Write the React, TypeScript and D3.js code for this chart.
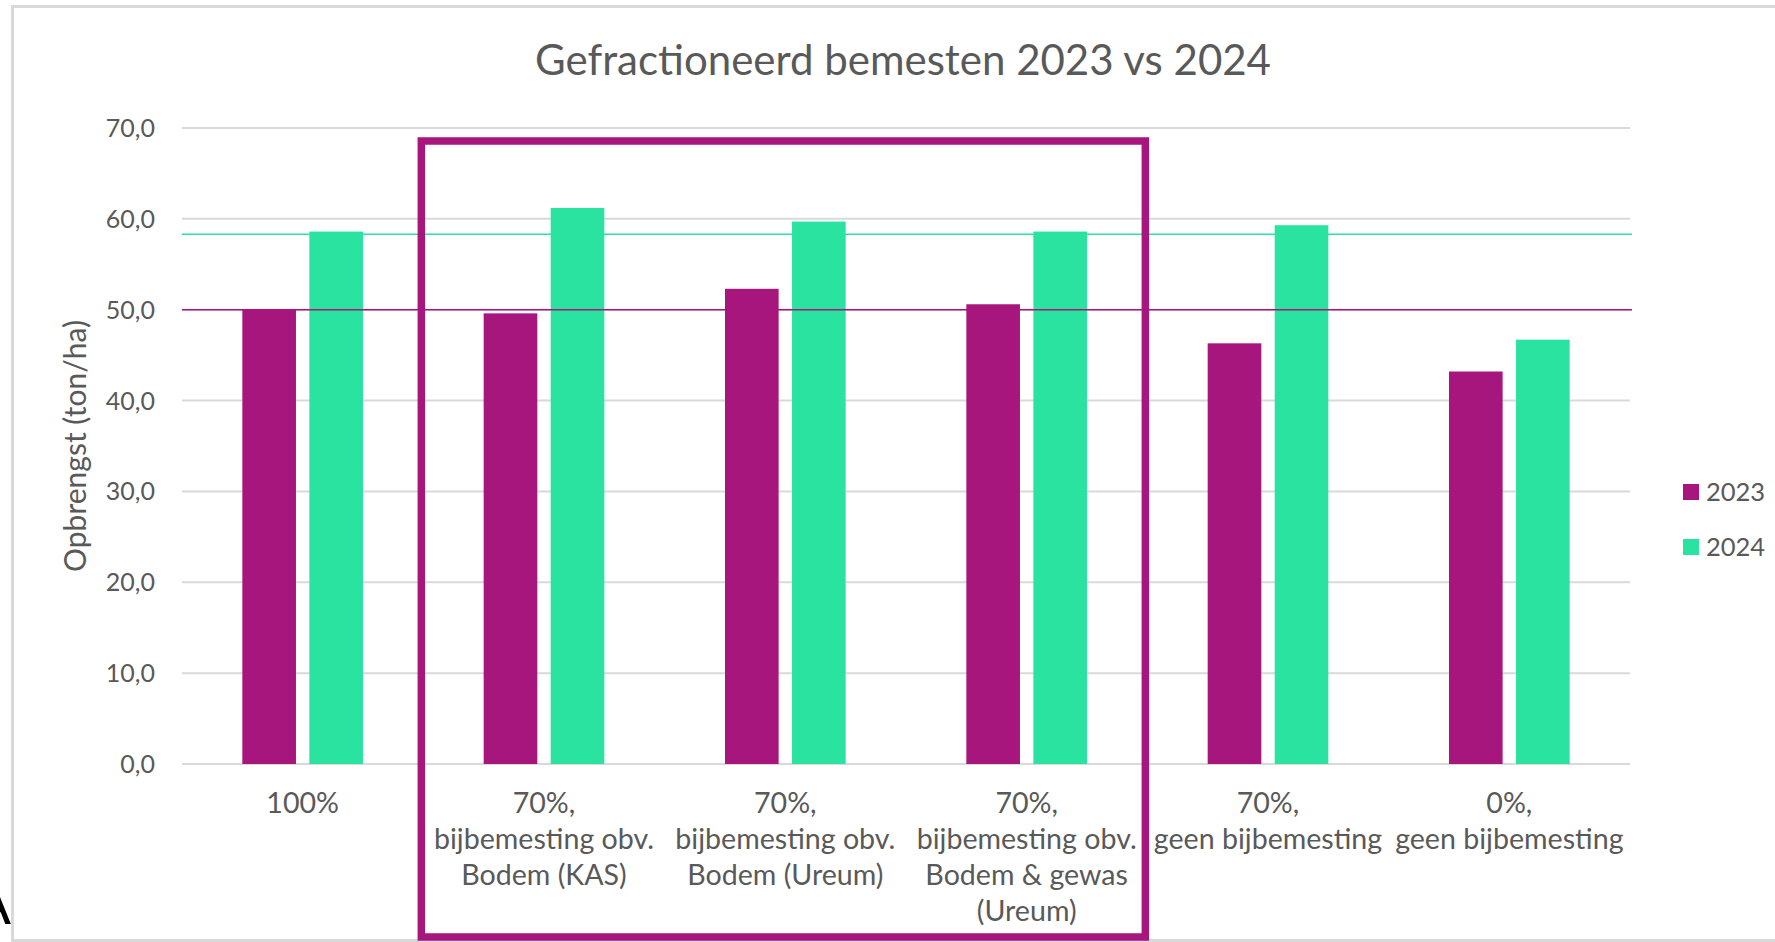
import React from "react";
import * as d3 from "d3";

const title = "Gefractioneerd bemesten 2023 vs 2024";
const yAxisTitle = "Opbrengst (ton/ha)";
const categories = [
  "100%",
  "70%, bijbemesting obv. Bodem (KAS)",
  "70%, bijbemesting obv. Bodem (Ureum)",
  "70%, bijbemesting obv. Bodem & gewas (Ureum)",
  "70%, geen bijbemesting",
  "0%, geen bijbemesting",
];
const categoryLines = [
  ["100%"],
  ["70%,", "bijbemesting obv.", "Bodem (KAS)"],
  ["70%,", "bijbemesting obv.", "Bodem (Ureum)"],
  ["70%,", "bijbemesting obv.", "Bodem & gewas", "(Ureum)"],
  ["70%,", "geen bijbemesting"],
  ["0%,", "geen bijbemesting"],
];
const seriesNames = ["2023", "2024"];
const values2023 = [50.0, 49.6, 52.3, 50.6, 46.3, 43.2];
const values2024 = [58.6, 61.2, 59.7, 58.6, 59.3, 46.7];
const refLine2023 = 50.0;
const refLine2024 = 58.3;
const yTicks = [0, 10, 20, 30, 40, 50, 60, 70];
const highlightFrom = 1;
const highlightTo = 3;

const colors: Record<string, string> = { "2023": "#A6167D", "2024": "#2AE3A1" };
const textColor = "#595959";
const gridColor = "#D9D9D9";
const font = "Lato, 'Open Sans', sans-serif";

export default function App() {
  const W = 1775;
  const H = 942;
  const left = 182;
  const right = 1630;
  const top = 128;
  const bottom = 764;

  const x = d3.scaleBand<string>().domain(categories).range([left, right]).padding(0);
  const inner = d3
    .scaleBand<string>()
    .domain(seriesNames)
    .range([0, x.bandwidth()])
    .paddingInner(0.2)
    .paddingOuter(0.9);
  const y = d3.scaleLinear().domain([0, 70]).range([bottom, top]);
  const fmt = (v: number) => d3.format(".1f")(v).replace(".", ",");

  const series = [
    { name: "2023", values: values2023 },
    { name: "2024", values: values2024 },
  ];

  const hx0 = (x(categories[highlightFrom]) as number) - 2;
  const hx1 = (x(categories[highlightTo]) as number) + x.bandwidth() - 2;

  return (
    <svg
      width={W}
      height={H}
      style={{ position: "fixed", left: 0, top: 0, background: "#fff" }}
      fontFamily={font}
    >
      <rect x={0} y={0} width={W} height={H} fill="#fff" />
      {/* chart area border */}
      <rect x={12.5} y={6.5} width={W + 20} height={H - 8} fill="none" stroke={gridColor} strokeWidth={3} />
      {/* stray glyph fragment */}
      <text x={11} y={924} fontSize={58} fill="#000" textAnchor="end" fontFamily="'Liberation Sans', sans-serif">
        A
      </text>
      <rect x={11} y={880} width={3} height={62} fill={gridColor} />

      <text x={903} y={75} textAnchor="middle" fontSize={42} fill={textColor}>
        {title}
      </text>

      {/* gridlines */}
      {yTicks.map((t) => (
        <g key={t}>
          <line x1={left} x2={right} y1={y(t)} y2={y(t)} stroke={gridColor} strokeWidth={2} />
          <text x={155} y={y(t)} dy="0.36em" textAnchor="end" fontSize={25} fill={textColor}>
            {fmt(t)}
          </text>
        </g>
      ))}

      {/* bars */}
      {series.map((s) => (
        <g key={s.name}>
          {s.values.map((v, i) => (
            <rect
              key={i}
              x={(x(categories[i]) as number) + (inner(s.name) as number)}
              y={y(v)}
              width={inner.bandwidth()}
              height={y(0) - y(v)}
              fill={colors[s.name]}
            />
          ))}
        </g>
      ))}

      {/* reference lines */}
      <line x1={left} x2={right + 2} y1={y(refLine2024)} y2={y(refLine2024)} stroke={colors["2024"]} strokeWidth={1.5} />
      <line x1={left} x2={right + 2} y1={y(refLine2023)} y2={y(refLine2023)} stroke={colors["2023"]} strokeWidth={1.5} />

      {/* category labels */}
      {categoryLines.map((lines, i) => (
        <text
          key={i}
          x={(x(categories[i]) as number) + x.bandwidth() / 2}
          y={813}
          textAnchor="middle"
          fontSize={28.6}
          fill={textColor}
        >
          {lines.map((l, j) => (
            <tspan key={j} x={(x(categories[i]) as number) + x.bandwidth() / 2} dy={j === 0 ? 0 : 36}>
              {l}
            </tspan>
          ))}
        </text>
      ))}

      {/* y axis title */}
      <text
        transform={`translate(86,${(top + bottom) / 2}) rotate(-90)`}
        textAnchor="middle"
        fontSize={30}
        fill={textColor}
      >
        {yAxisTitle}
      </text>

      {/* legend */}
      {seriesNames.map((n, i) => (
        <g key={n} transform={`translate(1683,${492 + i * 55})`}>
          <rect x={0} y={-8} width={16} height={16} fill={colors[n]} />
          <text x={23} y={0} dy="0.36em" fontSize={25.5} fill={textColor}>
            {n}
          </text>
        </g>
      ))}

      {/* highlight box */}
      <rect
        x={hx0}
        y={141}
        width={hx1 - hx0}
        height={937 - 141}
        fill="none"
        stroke={colors["2023"]}
        strokeWidth={7.5}
      />
    </svg>
  );
}
